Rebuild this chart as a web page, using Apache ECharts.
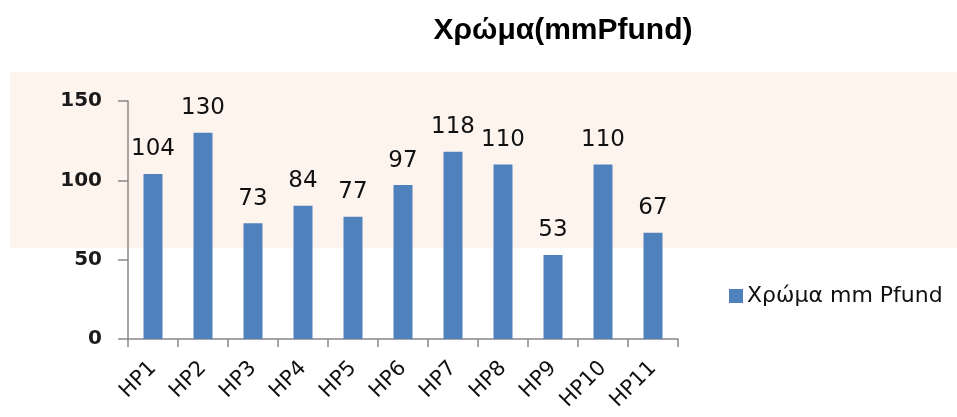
<!DOCTYPE html>
<html>
<head>
<meta charset="utf-8">
<script src="https://cdn.jsdelivr.net/npm/echarts@6/dist/echarts.min.js"></script>
<style>
  html, body { margin: 0; padding: 0; background: #fff; }
  #chart { width: 957px; height: 417px; }
</style>
</head>
<body>
<div id="chart"></div>
<script>
// data
const categories = ['HP1', 'HP2', 'HP3', 'HP4', 'HP5', 'HP6', 'HP7', 'HP8', 'HP9', 'HP10', 'HP11'];
const colourValues = [104, 130, 73, 84, 77, 97, 118, 110, 53, 110, 67];
const yTicks = [0, 50, 100, 150];
const seriesName = 'Χρώμα mm Pfund';
const chartTitle = 'Χρώμα(mmPfund)';

const chart = echarts.init(document.getElementById('chart'), null, { renderer: 'canvas' });

const option = {
    animation: false,
    backgroundColor: '#ffffff',
    title: {
        text: chartTitle,
        left: 558,
        top: 11,
        textAlign: 'center',
        textStyle: { fontFamily: 'Liberation Sans', fontWeight: 'bold', fontSize: 30, color: '#000' }
    },
    // peach band behind the plot
    graphic: [{
        type: 'rect',
        z: -10,
        shape: { x: 10, y: 72, width: 947, height: 176 },
        style: { fill: '#fef4ee' },
        silent: true
    }],
    legend: {
        left: 724,
        top: 280,
        itemWidth: 14,
        itemHeight: 14,
        itemGap: 6,
        icon: 'rect',
        textStyle: { fontFamily: 'DejaVu Sans', fontSize: 22, color: '#111', padding: [0, 0, 0, -1] },
        data: [seriesName]
    },
    grid: { left: 128, right: 279, top: 101, bottom: 78, containLabel: false },
    xAxis: {
        type: 'category',
        data: categories,
        axisLine: { lineStyle: { color: '#888', width: 1.5 } },
        axisTick: { show: true, length: 8, alignWithLabel: false, lineStyle: { color: '#888', width: 1.5 } },
        axisLabel: {
            rotate: 45,
            margin: 26,
            interval: 0,
            fontFamily: 'DejaVu Sans',
            fontSize: 21,
            color: '#111',
            padding: [0, 0, 0, 0]
        }
    },
    yAxis: {
        type: 'value',
        min: yTicks[0],
        max: yTicks[yTicks.length - 1],
        interval: 50,
        splitLine: { show: false },
        axisLine: { show: true, lineStyle: { color: '#888', width: 1.5 } },
        axisTick: { show: true, length: 10, lineStyle: { color: '#888', width: 1.5 } },
        axisLabel: {
            margin: 26,
            fontFamily: 'DejaVu Sans',
            fontWeight: 'bold',
            fontSize: 20,
            color: '#1a1a1a'
        }
    },
    series: [{
        name: seriesName,
        type: 'bar',
        data: colourValues,
        barWidth: 19,
        itemStyle: { color: '#4f81bd' },
        label: {
            show: true,
            position: 'top',
            distance: 13,
            fontFamily: 'DejaVu Sans',
            fontSize: 23,
            color: '#111'
        }
    }]
};

chart.setOption(option);
</script>
</body>
</html>
